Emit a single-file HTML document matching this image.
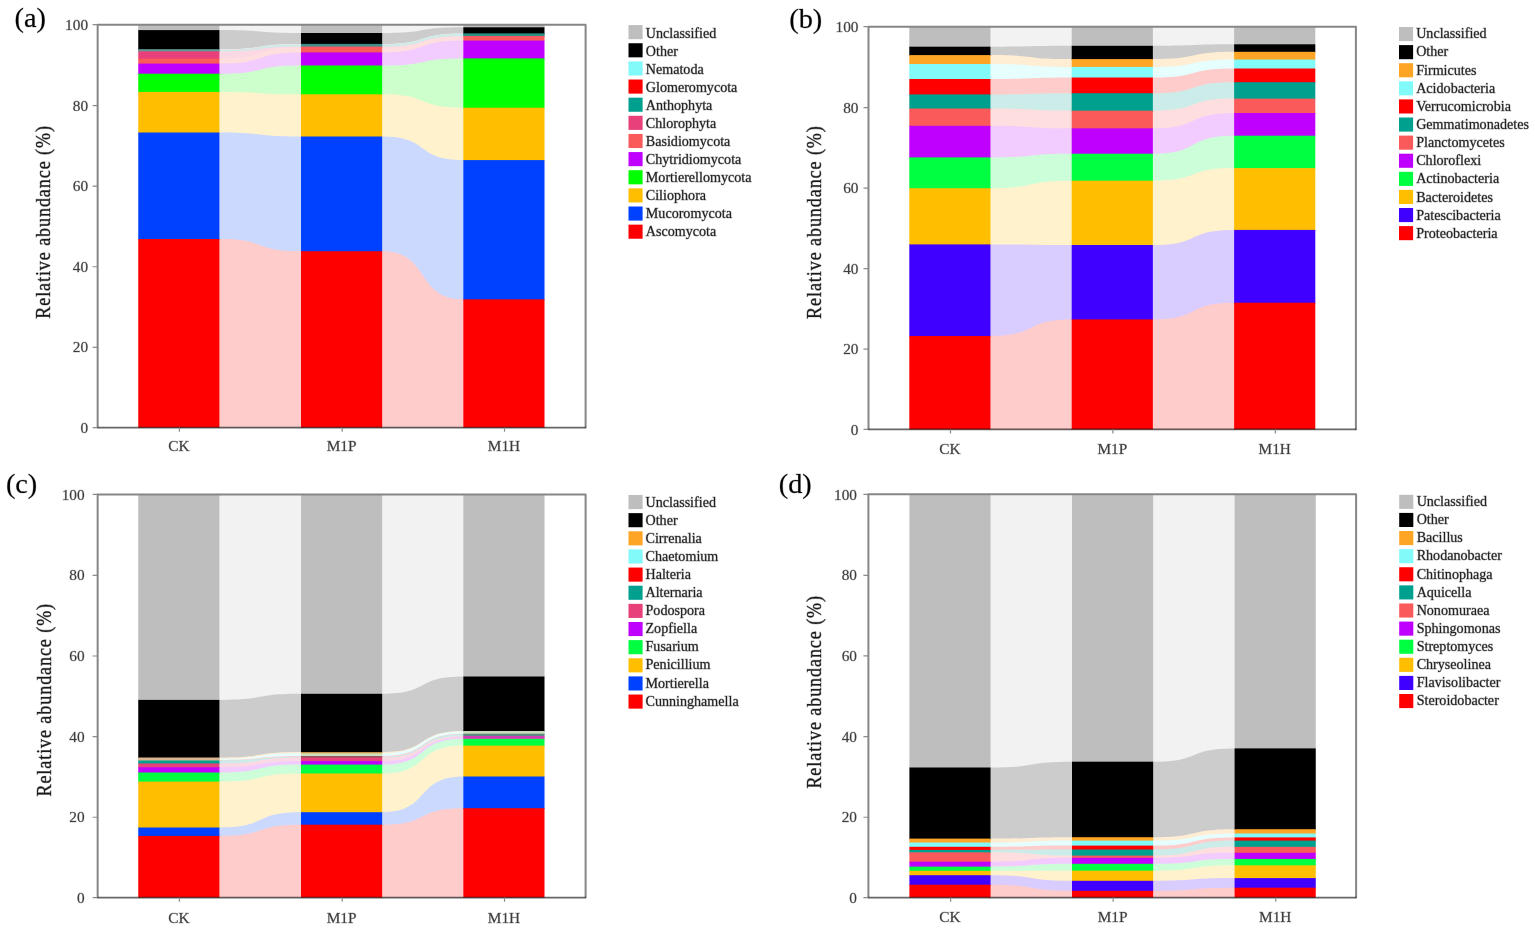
<!DOCTYPE html>
<html lang="en">
<head>
<meta charset="utf-8">
<title>Relative abundance of microbial taxa</title>
<style>
html,body{margin:0;padding:0;background:#fff;}
body{width:1535px;height:928px;overflow:hidden;}
svg{display:block;font-family:"Liberation Serif", "DejaVu Serif", serif;}
</style>
</head>
<body>
<svg width="1535" height="928" viewBox="0 0 1535 928" role="img" aria-label="Relative abundance of microbial taxa in CK, M1P and M1H">
<rect width="1535" height="928" fill="#fff"/>
<g id="panel-a">
<g class="flows">
<path d="M218.4 24.7H302V427.6H218.4Z" fill="#F2F2F2"/>
<path d="M218.4 30.1H219.4C268.36 30.1 252.04 33 301 33H302V427.6H218.4Z" fill="#CCCCCC"/>
<path d="M218.4 49.2H219.4C268.36 49.2 252.04 43.9 301 43.9H302V427.6H218.4Z" fill="#E6FEFE"/>
<path d="M218.4 49.8H219.4C268.36 49.8 252.04 44.4 301 44.4H302V427.6H218.4Z" fill="#FFCCCC"/>
<path d="M218.4 50H219.4C268.36 50 252.04 44.6 301 44.6H302V427.6H218.4Z" fill="#CCECE9"/>
<path d="M218.4 51.3H219.4C268.36 51.3 252.04 46.5 301 46.5H302V427.6H218.4Z" fill="#FAD9E4"/>
<path d="M218.4 58.6H219.4C268.36 58.6 252.04 47.2 301 47.2H302V427.6H218.4Z" fill="#FEDEDE"/>
<path d="M218.4 63.6H219.4C268.36 63.6 252.04 52.4 301 52.4H302V427.6H218.4Z" fill="#F2CCFF"/>
<path d="M218.4 73.7H219.4C268.36 73.7 252.04 65.5 301 65.5H302V427.6H218.4Z" fill="#CCFFCC"/>
<path d="M218.4 91.9H219.4C268.36 91.9 252.04 94.3 301 94.3H302V427.6H218.4Z" fill="#FFF2CC"/>
<path d="M218.4 132.5H219.4C268.36 132.5 252.04 136.5 301 136.5H302V427.6H218.4Z" fill="#CCD9FF"/>
<path d="M218.4 239H219.4C268.36 239 252.04 251.2 301 251.2H302V427.6H218.4Z" fill="#FFCCCC"/>
<path d="M381.15 24.7H464.35V427.6H381.15Z" fill="#F2F2F2"/>
<path d="M381.15 33H382.15C430.87 33 414.63 27.3 463.35 27.3H464.35V427.6H381.15Z" fill="#CCCCCC"/>
<path d="M381.15 43.9H382.15C430.87 43.9 414.63 33.4 463.35 33.4H464.35V427.6H381.15Z" fill="#E6FEFE"/>
<path d="M381.15 44.4H382.15C430.87 44.4 414.63 33.9 463.35 33.9H464.35V427.6H381.15Z" fill="#FFCCCC"/>
<path d="M381.15 44.6H382.15C430.87 44.6 414.63 34.1 463.35 34.1H464.35V427.6H381.15Z" fill="#CCECE9"/>
<path d="M381.15 46.5H382.15C430.87 46.5 414.63 36 463.35 36H464.35V427.6H381.15Z" fill="#FAD9E4"/>
<path d="M381.15 47.2H382.15C430.87 47.2 414.63 36.5 463.35 36.5H464.35V427.6H381.15Z" fill="#FEDEDE"/>
<path d="M381.15 52.4H382.15C430.87 52.4 414.63 40.6 463.35 40.6H464.35V427.6H381.15Z" fill="#F2CCFF"/>
<path d="M381.15 65.5H382.15C430.87 65.5 414.63 58.4 463.35 58.4H464.35V427.6H381.15Z" fill="#CCFFCC"/>
<path d="M381.15 94.3H382.15C430.87 94.3 414.63 107.7 463.35 107.7H464.35V427.6H381.15Z" fill="#FFF2CC"/>
<path d="M381.15 136.5H382.15C430.87 136.5 414.63 160.1 463.35 160.1H464.35V427.6H381.15Z" fill="#CCD9FF"/>
<path d="M381.15 251.2H382.15C430.87 251.2 414.63 299.3 463.35 299.3H464.35V427.6H381.15Z" fill="#FFCCCC"/>
</g>
<g class="bars">
<rect x="138.25" y="24.7" width="81.15" height="6.2" fill="#BEBEBE"/>
<rect x="138.25" y="30.1" width="81.15" height="19.9" fill="#000000"/>
<rect x="138.25" y="49.2" width="81.15" height="1.4" fill="#5F9A96"/>
<rect x="138.25" y="49.8" width="81.15" height="1" fill="#5F9A96"/>
<rect x="138.25" y="50" width="81.15" height="2.1" fill="#5F9A96"/>
<rect x="138.25" y="51.3" width="81.15" height="8.1" fill="#E8407A"/>
<rect x="138.25" y="58.6" width="81.15" height="5.8" fill="#FA5A5A"/>
<rect x="138.25" y="63.6" width="81.15" height="10.9" fill="#BF00FF"/>
<rect x="138.25" y="73.7" width="81.15" height="19" fill="#00FF00"/>
<rect x="138.25" y="91.9" width="81.15" height="41.4" fill="#FFBF00"/>
<rect x="138.25" y="132.5" width="81.15" height="107.3" fill="#0040FF"/>
<rect x="138.25" y="239" width="81.15" height="188.6" fill="#FF0000"/>
<rect x="301" y="24.7" width="81.15" height="9.1" fill="#BEBEBE"/>
<rect x="301" y="33" width="81.15" height="11.7" fill="#000000"/>
<rect x="301" y="43.9" width="81.15" height="1.3" fill="#3F908A"/>
<rect x="301" y="44.4" width="81.15" height="1" fill="#3F908A"/>
<rect x="301" y="44.6" width="81.15" height="2.7" fill="#3F908A"/>
<rect x="301" y="46.5" width="81.15" height="1.5" fill="#F05870"/>
<rect x="301" y="47.2" width="81.15" height="6" fill="#FA5A5A"/>
<rect x="301" y="52.4" width="81.15" height="13.9" fill="#BF00FF"/>
<rect x="301" y="65.5" width="81.15" height="29.6" fill="#00FF00"/>
<rect x="301" y="94.3" width="81.15" height="43" fill="#FFBF00"/>
<rect x="301" y="136.5" width="81.15" height="115.5" fill="#0040FF"/>
<rect x="301" y="251.2" width="81.15" height="176.4" fill="#FF0000"/>
<rect x="463.35" y="24.7" width="81.15" height="3.4" fill="#BEBEBE"/>
<rect x="463.35" y="27.3" width="81.15" height="6.9" fill="#000000"/>
<rect x="463.35" y="33.4" width="81.15" height="1.3" fill="#2F9088"/>
<rect x="463.35" y="33.9" width="81.15" height="1" fill="#2F9088"/>
<rect x="463.35" y="34.1" width="81.15" height="2.7" fill="#2F9088"/>
<rect x="463.35" y="36" width="81.15" height="1.3" fill="#F05870"/>
<rect x="463.35" y="36.5" width="81.15" height="4.9" fill="#FA5A5A"/>
<rect x="463.35" y="40.6" width="81.15" height="18.6" fill="#BF00FF"/>
<rect x="463.35" y="58.4" width="81.15" height="50.1" fill="#00FF00"/>
<rect x="463.35" y="107.7" width="81.15" height="53.2" fill="#FFBF00"/>
<rect x="463.35" y="160.1" width="81.15" height="140" fill="#0040FF"/>
<rect x="463.35" y="299.3" width="81.15" height="128.3" fill="#FF0000"/>
</g>
<path d="M97.65 427.6V24.7H585.6V427.6" fill="none" stroke="#868686" stroke-width="2.0" stroke-linejoin="round"/>
<path d="M96.95 427.6H586.3" fill="none" stroke="#000" stroke-opacity="0.6" stroke-width="1.9"/>
<path d="M92.65 427.6H97.65M92.65 347.32H97.65M92.65 266.74H97.65M92.65 186.16H97.65M92.65 105.58H97.65M92.65 24.7H97.65M179.42 427.6V431.8M342.18 427.6V431.8M504.53 427.6V431.8" fill="none" stroke="#8A8A8A" stroke-width="1.2"/>
<g class="ticklabels" font-size="15.3" fill="#3C3C3C" stroke="#3C3C3C" stroke-width="0.8" stroke-opacity="0.3" paint-order="stroke">
<text transform="translate(88.05 432.75) scale(1 1)" text-anchor="end">0</text>
<text transform="translate(88.05 352.47) scale(1 1)" text-anchor="end">20</text>
<text transform="translate(88.05 271.89) scale(1 1)" text-anchor="end">40</text>
<text transform="translate(88.05 191.31) scale(1 1)" text-anchor="end">60</text>
<text transform="translate(88.05 110.73) scale(1 1)" text-anchor="end">80</text>
<text transform="translate(88.05 29.85) scale(1 1)" text-anchor="end">100</text>
<text transform="translate(178.82 451.3) scale(1 1)" text-anchor="middle">CK</text>
<text transform="translate(341.57 451.3) scale(1 1)" text-anchor="middle">M1P</text>
<text transform="translate(503.93 451.3) scale(1 1)" text-anchor="middle">M1H</text>
</g>
<text class="ylab" transform="translate(50.4 221.95) rotate(-90) scale(0.9 1)" letter-spacing="1.005" text-anchor="middle" font-size="20.1" fill="#1a1a1a" stroke="#1a1a1a" stroke-width="0.9" stroke-opacity="0.4" paint-order="stroke">Relative abundance (%)</text>
<text class="plabel" x="14.6" y="27" font-size="28.3" fill="#000" stroke="#000" stroke-width="0.8" stroke-opacity="0.25" paint-order="stroke">(a)</text>
<g class="legend" font-size="14.1" fill="#202020" stroke-width="0.9" stroke-opacity="0.35" paint-order="stroke">
<rect x="628.5" y="25.1" width="14.1" height="14.1" fill="#BEBEBE"/>
<text x="645.8" y="37.65" stroke="#202020">Unclassified</text>
<rect x="628.5" y="43.24" width="14.1" height="14.1" fill="#000000"/>
<text x="645.8" y="55.65" stroke="#202020">Other</text>
<rect x="628.5" y="61.38" width="14.1" height="14.1" fill="#82FAFA"/>
<text x="645.8" y="73.65" stroke="#202020">Nematoda</text>
<rect x="628.5" y="79.52" width="14.1" height="14.1" fill="#FF0000"/>
<text x="645.8" y="91.65" stroke="#202020">Glomeromycota</text>
<rect x="628.5" y="97.66" width="14.1" height="14.1" fill="#00A08F"/>
<text x="645.8" y="109.65" stroke="#202020">Anthophyta</text>
<rect x="628.5" y="115.8" width="14.1" height="14.1" fill="#E8407A"/>
<text x="645.8" y="127.65" stroke="#202020">Chlorophyta</text>
<rect x="628.5" y="133.94" width="14.1" height="14.1" fill="#FA5A5A"/>
<text x="645.8" y="145.65" stroke="#202020">Basidiomycota</text>
<rect x="628.5" y="152.08" width="14.1" height="14.1" fill="#BF00FF"/>
<text x="645.8" y="163.65" stroke="#202020">Chytridiomycota</text>
<rect x="628.5" y="170.22" width="14.1" height="14.1" fill="#00FF00"/>
<text x="645.8" y="181.65" stroke="#202020">Mortierellomycota</text>
<rect x="628.5" y="188.36" width="14.1" height="14.1" fill="#FFBF00"/>
<text x="645.8" y="199.65" stroke="#202020">Ciliophora</text>
<rect x="628.5" y="206.5" width="14.1" height="14.1" fill="#0040FF"/>
<text x="645.8" y="217.65" stroke="#202020">Mucoromycota</text>
<rect x="628.5" y="224.64" width="14.1" height="14.1" fill="#FF0000"/>
<text x="645.8" y="235.65" stroke="#202020">Ascomycota</text>
</g>
</g>
<g id="panel-b">
<g class="flows">
<path d="M989.45 26.7H1072.7V429.4H989.45Z" fill="#F2F2F2"/>
<path d="M989.45 46.7H990.45C1039.2 46.7 1022.95 45.8 1071.7 45.8H1072.7V429.4H989.45Z" fill="#CCCCCC"/>
<path d="M989.45 55.1H990.45C1039.2 55.1 1022.95 59.1 1071.7 59.1H1072.7V429.4H989.45Z" fill="#FFEDD4"/>
<path d="M989.45 64H990.45C1039.2 64 1022.95 66.9 1071.7 66.9H1072.7V429.4H989.45Z" fill="#E6FEFE"/>
<path d="M989.45 79H990.45C1039.2 79 1022.95 77.5 1071.7 77.5H1072.7V429.4H989.45Z" fill="#FFCCCC"/>
<path d="M989.45 94.4H990.45C1039.2 94.4 1022.95 93.2 1071.7 93.2H1072.7V429.4H989.45Z" fill="#CCECE9"/>
<path d="M989.45 108.5H990.45C1039.2 108.5 1022.95 110.7 1071.7 110.7H1072.7V429.4H989.45Z" fill="#FEDEDE"/>
<path d="M989.45 125.8H990.45C1039.2 125.8 1022.95 128.3 1071.7 128.3H1072.7V429.4H989.45Z" fill="#F2CCFF"/>
<path d="M989.45 157.4H990.45C1039.2 157.4 1022.95 153.7 1071.7 153.7H1072.7V429.4H989.45Z" fill="#CCFFD9"/>
<path d="M989.45 188.2H990.45C1039.2 188.2 1022.95 180.7 1071.7 180.7H1072.7V429.4H989.45Z" fill="#FFF2CC"/>
<path d="M989.45 244.4H990.45C1039.2 244.4 1022.95 245 1071.7 245H1072.7V429.4H989.45Z" fill="#D9CCFF"/>
<path d="M989.45 336H990.45C1039.2 336 1022.95 319.4 1071.7 319.4H1072.7V429.4H989.45Z" fill="#FFCCCC"/>
<path d="M1151.85 26.7H1235.15V429.4H1151.85Z" fill="#F2F2F2"/>
<path d="M1151.85 45.8H1152.85C1201.63 45.8 1185.37 44.3 1234.15 44.3H1235.15V429.4H1151.85Z" fill="#CCCCCC"/>
<path d="M1151.85 59.1H1152.85C1201.63 59.1 1185.37 51.8 1234.15 51.8H1235.15V429.4H1151.85Z" fill="#FFEDD4"/>
<path d="M1151.85 66.9H1152.85C1201.63 66.9 1185.37 59.5 1234.15 59.5H1235.15V429.4H1151.85Z" fill="#E6FEFE"/>
<path d="M1151.85 77.5H1152.85C1201.63 77.5 1185.37 68.5 1234.15 68.5H1235.15V429.4H1151.85Z" fill="#FFCCCC"/>
<path d="M1151.85 93.2H1152.85C1201.63 93.2 1185.37 82.2 1234.15 82.2H1235.15V429.4H1151.85Z" fill="#CCECE9"/>
<path d="M1151.85 110.7H1152.85C1201.63 110.7 1185.37 98.6 1234.15 98.6H1235.15V429.4H1151.85Z" fill="#FEDEDE"/>
<path d="M1151.85 128.3H1152.85C1201.63 128.3 1185.37 113 1234.15 113H1235.15V429.4H1151.85Z" fill="#F2CCFF"/>
<path d="M1151.85 153.7H1152.85C1201.63 153.7 1185.37 135.7 1234.15 135.7H1235.15V429.4H1151.85Z" fill="#CCFFD9"/>
<path d="M1151.85 180.7H1152.85C1201.63 180.7 1185.37 168.1 1234.15 168.1H1235.15V429.4H1151.85Z" fill="#FFF2CC"/>
<path d="M1151.85 245H1152.85C1201.63 245 1185.37 229.9 1234.15 229.9H1235.15V429.4H1151.85Z" fill="#D9CCFF"/>
<path d="M1151.85 319.4H1152.85C1201.63 319.4 1185.37 302.7 1234.15 302.7H1235.15V429.4H1151.85Z" fill="#FFCCCC"/>
</g>
<g class="bars">
<rect x="909.3" y="26.7" width="81.15" height="20.8" fill="#BEBEBE"/>
<rect x="909.3" y="46.7" width="81.15" height="9.2" fill="#000000"/>
<rect x="909.3" y="55.1" width="81.15" height="9.7" fill="#FFA526"/>
<rect x="909.3" y="64" width="81.15" height="15.8" fill="#82FAFA"/>
<rect x="909.3" y="79" width="81.15" height="16.2" fill="#FF0000"/>
<rect x="909.3" y="94.4" width="81.15" height="14.9" fill="#00A08F"/>
<rect x="909.3" y="108.5" width="81.15" height="18.1" fill="#FA5A5A"/>
<rect x="909.3" y="125.8" width="81.15" height="32.4" fill="#BF00FF"/>
<rect x="909.3" y="157.4" width="81.15" height="31.6" fill="#00FF40"/>
<rect x="909.3" y="188.2" width="81.15" height="57" fill="#FFBF00"/>
<rect x="909.3" y="244.4" width="81.15" height="92.4" fill="#4000FF"/>
<rect x="909.3" y="336" width="81.15" height="93.4" fill="#FF0000"/>
<rect x="1071.7" y="26.7" width="81.15" height="19.9" fill="#BEBEBE"/>
<rect x="1071.7" y="45.8" width="81.15" height="14.1" fill="#000000"/>
<rect x="1071.7" y="59.1" width="81.15" height="8.6" fill="#FFA526"/>
<rect x="1071.7" y="66.9" width="81.15" height="11.4" fill="#82FAFA"/>
<rect x="1071.7" y="77.5" width="81.15" height="16.5" fill="#FF0000"/>
<rect x="1071.7" y="93.2" width="81.15" height="18.3" fill="#00A08F"/>
<rect x="1071.7" y="110.7" width="81.15" height="18.4" fill="#FA5A5A"/>
<rect x="1071.7" y="128.3" width="81.15" height="26.2" fill="#BF00FF"/>
<rect x="1071.7" y="153.7" width="81.15" height="27.8" fill="#00FF40"/>
<rect x="1071.7" y="180.7" width="81.15" height="65.1" fill="#FFBF00"/>
<rect x="1071.7" y="245" width="81.15" height="75.2" fill="#4000FF"/>
<rect x="1071.7" y="319.4" width="81.15" height="110" fill="#FF0000"/>
<rect x="1234.15" y="26.7" width="81.15" height="18.4" fill="#BEBEBE"/>
<rect x="1234.15" y="44.3" width="81.15" height="8.3" fill="#000000"/>
<rect x="1234.15" y="51.8" width="81.15" height="8.5" fill="#FFA526"/>
<rect x="1234.15" y="59.5" width="81.15" height="9.8" fill="#82FAFA"/>
<rect x="1234.15" y="68.5" width="81.15" height="14.5" fill="#FF0000"/>
<rect x="1234.15" y="82.2" width="81.15" height="17.2" fill="#00A08F"/>
<rect x="1234.15" y="98.6" width="81.15" height="15.2" fill="#FA5A5A"/>
<rect x="1234.15" y="113" width="81.15" height="23.5" fill="#BF00FF"/>
<rect x="1234.15" y="135.7" width="81.15" height="33.2" fill="#00FF40"/>
<rect x="1234.15" y="168.1" width="81.15" height="62.6" fill="#FFBF00"/>
<rect x="1234.15" y="229.9" width="81.15" height="73.6" fill="#4000FF"/>
<rect x="1234.15" y="302.7" width="81.15" height="126.7" fill="#FF0000"/>
</g>
<path d="M868.5 429.4V26.7H1355.9V429.4" fill="none" stroke="#868686" stroke-width="2.0" stroke-linejoin="round"/>
<path d="M867.8 429.4H1356.6" fill="none" stroke="#000" stroke-opacity="0.6" stroke-width="1.9"/>
<path d="M863.5 429.4H868.5M863.5 349.16H868.5M863.5 268.62H868.5M863.5 188.08H868.5M863.5 107.54H868.5M863.5 26.7H868.5M950.48 429.4V433.6M1112.88 429.4V433.6M1275.33 429.4V433.6" fill="none" stroke="#8A8A8A" stroke-width="1.2"/>
<g class="ticklabels" font-size="15.3" fill="#3C3C3C" stroke="#3C3C3C" stroke-width="0.8" stroke-opacity="0.3" paint-order="stroke">
<text transform="translate(858.5 434.55) scale(1 1)" text-anchor="end">0</text>
<text transform="translate(858.5 354.31) scale(1 1)" text-anchor="end">20</text>
<text transform="translate(858.5 273.77) scale(1 1)" text-anchor="end">40</text>
<text transform="translate(858.5 193.23) scale(1 1)" text-anchor="end">60</text>
<text transform="translate(858.5 112.69) scale(1 1)" text-anchor="end">80</text>
<text transform="translate(858.5 31.85) scale(1 1)" text-anchor="end">100</text>
<text transform="translate(949.88 453.8) scale(1 1)" text-anchor="middle">CK</text>
<text transform="translate(1112.28 453.8) scale(1 1)" text-anchor="middle">M1P</text>
<text transform="translate(1274.73 453.8) scale(1 1)" text-anchor="middle">M1H</text>
</g>
<text class="ylab" transform="translate(820.5 222.1) rotate(-90) scale(0.9 1)" letter-spacing="1.005" text-anchor="middle" font-size="20.1" fill="#1a1a1a" stroke="#1a1a1a" stroke-width="0.9" stroke-opacity="0.4" paint-order="stroke">Relative abundance (%)</text>
<text class="plabel" x="789.3" y="27.8" font-size="28.3" fill="#000" stroke="#000" stroke-width="0.8" stroke-opacity="0.25" paint-order="stroke">(b)</text>
<g class="legend" font-size="14.1" fill="#202020" stroke-width="0.9" stroke-opacity="0.35" paint-order="stroke">
<rect x="1399" y="27" width="14.1" height="14.1" fill="#BEBEBE"/>
<text x="1416.2" y="38.35" stroke="#202020">Unclassified</text>
<rect x="1399" y="45.1" width="14.1" height="14.1" fill="#000000"/>
<text x="1416.2" y="56.49" stroke="#202020">Other</text>
<rect x="1399" y="63.2" width="14.1" height="14.1" fill="#FFA526"/>
<text x="1416.2" y="74.63" stroke="#202020">Firmicutes</text>
<rect x="1399" y="81.3" width="14.1" height="14.1" fill="#82FAFA"/>
<text x="1416.2" y="92.77" stroke="#202020">Acidobacteria</text>
<rect x="1399" y="99.4" width="14.1" height="14.1" fill="#FF0000"/>
<text x="1416.2" y="110.91" stroke="#202020">Verrucomicrobia</text>
<rect x="1399" y="117.5" width="14.1" height="14.1" fill="#00A08F"/>
<text x="1416.2" y="129.05" stroke="#202020">Gemmatimonadetes</text>
<rect x="1399" y="135.6" width="14.1" height="14.1" fill="#FA5A5A"/>
<text x="1416.2" y="147.19" stroke="#202020">Planctomycetes</text>
<rect x="1399" y="153.7" width="14.1" height="14.1" fill="#BF00FF"/>
<text x="1416.2" y="165.33" stroke="#202020">Chloroflexi</text>
<rect x="1399" y="171.8" width="14.1" height="14.1" fill="#00FF40"/>
<text x="1416.2" y="183.47" stroke="#202020">Actinobacteria</text>
<rect x="1399" y="189.9" width="14.1" height="14.1" fill="#FFBF00"/>
<text x="1416.2" y="201.61" stroke="#202020">Bacteroidetes</text>
<rect x="1399" y="208" width="14.1" height="14.1" fill="#4000FF"/>
<text x="1416.2" y="219.75" stroke="#202020">Patescibacteria</text>
<rect x="1399" y="226.1" width="14.1" height="14.1" fill="#FF0000"/>
<text x="1416.2" y="237.89" stroke="#202020">Proteobacteria</text>
</g>
</g>
<g id="panel-c">
<g class="flows">
<path d="M218.4 494.4H302V897.6H218.4Z" fill="#F2F2F2"/>
<path d="M218.4 699.9H219.4C268.36 699.9 252.04 693.8 301 693.8H302V897.6H218.4Z" fill="#CCCCCC"/>
<path d="M218.4 757.5H219.4C268.36 757.5 252.04 752.1 301 752.1H302V897.6H218.4Z" fill="#FFEDD4"/>
<path d="M218.4 758.7H219.4C268.36 758.7 252.04 753.3 301 753.3H302V897.6H218.4Z" fill="#E6FEFE"/>
<path d="M218.4 759.9H219.4C268.36 759.9 252.04 756 301 756H302V897.6H218.4Z" fill="#FFCCCC"/>
<path d="M218.4 760.5H219.4C268.36 760.5 252.04 756.8 301 756.8H302V897.6H218.4Z" fill="#CCECE9"/>
<path d="M218.4 763.4H219.4C268.36 763.4 252.04 757.6 301 757.6H302V897.6H218.4Z" fill="#FAD9E4"/>
<path d="M218.4 767.3H219.4C268.36 767.3 252.04 761.1 301 761.1H302V897.6H218.4Z" fill="#F2CCFF"/>
<path d="M218.4 772.5H219.4C268.36 772.5 252.04 764.6 301 764.6H302V897.6H218.4Z" fill="#CCFFD9"/>
<path d="M218.4 781.6H219.4C268.36 781.6 252.04 773.5 301 773.5H302V897.6H218.4Z" fill="#FFF2CC"/>
<path d="M218.4 827.5H219.4C268.36 827.5 252.04 812.2 301 812.2H302V897.6H218.4Z" fill="#CCD9FF"/>
<path d="M218.4 835.9H219.4C268.36 835.9 252.04 824.7 301 824.7H302V897.6H218.4Z" fill="#FFCCCC"/>
<path d="M381.15 494.4H464.35V897.6H381.15Z" fill="#F2F2F2"/>
<path d="M381.15 693.8H382.15C430.87 693.8 414.63 676.5 463.35 676.5H464.35V897.6H381.15Z" fill="#CCCCCC"/>
<path d="M381.15 752.1H382.15C430.87 752.1 414.63 731 463.35 731H464.35V897.6H381.15Z" fill="#FFEDD4"/>
<path d="M381.15 753.3H382.15C430.87 753.3 414.63 731.6 463.35 731.6H464.35V897.6H381.15Z" fill="#E6FEFE"/>
<path d="M381.15 756H382.15C430.87 756 414.63 733.7 463.35 733.7H464.35V897.6H381.15Z" fill="#FFCCCC"/>
<path d="M381.15 756.8H382.15C430.87 756.8 414.63 734.2 463.35 734.2H464.35V897.6H381.15Z" fill="#CCECE9"/>
<path d="M381.15 757.6H382.15C430.87 757.6 414.63 736 463.35 736H464.35V897.6H381.15Z" fill="#FAD9E4"/>
<path d="M381.15 761.1H382.15C430.87 761.1 414.63 737.4 463.35 737.4H464.35V897.6H381.15Z" fill="#F2CCFF"/>
<path d="M381.15 764.6H382.15C430.87 764.6 414.63 738.8 463.35 738.8H464.35V897.6H381.15Z" fill="#CCFFD9"/>
<path d="M381.15 773.5H382.15C430.87 773.5 414.63 745.6 463.35 745.6H464.35V897.6H381.15Z" fill="#FFF2CC"/>
<path d="M381.15 812.2H382.15C430.87 812.2 414.63 776.5 463.35 776.5H464.35V897.6H381.15Z" fill="#CCD9FF"/>
<path d="M381.15 824.7H382.15C430.87 824.7 414.63 808.2 463.35 808.2H464.35V897.6H381.15Z" fill="#FFCCCC"/>
</g>
<g class="bars">
<rect x="138.25" y="494.4" width="81.15" height="206.3" fill="#BEBEBE"/>
<rect x="138.25" y="699.9" width="81.15" height="58.4" fill="#000000"/>
<rect x="138.25" y="757.5" width="81.15" height="2" fill="#D8B690"/>
<rect x="138.25" y="758.7" width="81.15" height="2" fill="#D8B690"/>
<rect x="138.25" y="759.9" width="81.15" height="1.4" fill="#D8B690"/>
<rect x="138.25" y="760.5" width="81.15" height="3.7" fill="#00A08F"/>
<rect x="138.25" y="763.4" width="81.15" height="4.7" fill="#E8407A"/>
<rect x="138.25" y="767.3" width="81.15" height="6" fill="#BF00FF"/>
<rect x="138.25" y="772.5" width="81.15" height="9.9" fill="#00FF40"/>
<rect x="138.25" y="781.6" width="81.15" height="46.7" fill="#FFBF00"/>
<rect x="138.25" y="827.5" width="81.15" height="9.2" fill="#0040FF"/>
<rect x="138.25" y="835.9" width="81.15" height="61.7" fill="#FF0000"/>
<rect x="301" y="494.4" width="81.15" height="200.2" fill="#BEBEBE"/>
<rect x="301" y="693.8" width="81.15" height="59.1" fill="#000000"/>
<rect x="301" y="752.1" width="81.15" height="2" fill="#D9A050"/>
<rect x="301" y="753.3" width="81.15" height="3.5" fill="#CFE0B8"/>
<rect x="301" y="756" width="81.15" height="1.6" fill="#9A5565"/>
<rect x="301" y="756.8" width="81.15" height="1.6" fill="#9A5565"/>
<rect x="301" y="757.6" width="81.15" height="4.3" fill="#E8407A"/>
<rect x="301" y="761.1" width="81.15" height="4.3" fill="#BF00FF"/>
<rect x="301" y="764.6" width="81.15" height="9.7" fill="#00FF40"/>
<rect x="301" y="773.5" width="81.15" height="39.5" fill="#FFBF00"/>
<rect x="301" y="812.2" width="81.15" height="13.3" fill="#0040FF"/>
<rect x="301" y="824.7" width="81.15" height="72.9" fill="#FF0000"/>
<rect x="463.35" y="494.4" width="81.15" height="182.9" fill="#BEBEBE"/>
<rect x="463.35" y="676.5" width="81.15" height="55.3" fill="#000000"/>
<rect x="463.35" y="731" width="81.15" height="1.4" fill="#C8DDB8"/>
<rect x="463.35" y="731.6" width="81.15" height="2.9" fill="#C8DDB8"/>
<rect x="463.35" y="733.7" width="81.15" height="1.3" fill="#5E8582"/>
<rect x="463.35" y="734.2" width="81.15" height="2.6" fill="#5E8582"/>
<rect x="463.35" y="736" width="81.15" height="2.2" fill="#D23CB4"/>
<rect x="463.35" y="737.4" width="81.15" height="2.2" fill="#D23CB4"/>
<rect x="463.35" y="738.8" width="81.15" height="7.6" fill="#00FF40"/>
<rect x="463.35" y="745.6" width="81.15" height="31.7" fill="#FFBF00"/>
<rect x="463.35" y="776.5" width="81.15" height="32.5" fill="#0040FF"/>
<rect x="463.35" y="808.2" width="81.15" height="89.4" fill="#FF0000"/>
</g>
<path d="M97.65 897.6V494.4H585.6V897.6" fill="none" stroke="#868686" stroke-width="2.0" stroke-linejoin="round"/>
<path d="M96.95 897.6H586.3" fill="none" stroke="#000" stroke-opacity="0.6" stroke-width="1.9"/>
<path d="M92.65 897.6H97.65M92.65 817.26H97.65M92.65 736.62H97.65M92.65 655.98H97.65M92.65 575.34H97.65M92.65 494.4H97.65M179.42 897.6V901.8M342.18 897.6V901.8M504.53 897.6V901.8" fill="none" stroke="#8A8A8A" stroke-width="1.2"/>
<g class="ticklabels" font-size="15.3" fill="#3C3C3C" stroke="#3C3C3C" stroke-width="0.8" stroke-opacity="0.3" paint-order="stroke">
<text transform="translate(84.65 902.75) scale(1 1)" text-anchor="end">0</text>
<text transform="translate(84.65 822.41) scale(1 1)" text-anchor="end">20</text>
<text transform="translate(84.65 741.77) scale(1 1)" text-anchor="end">40</text>
<text transform="translate(84.65 661.13) scale(1 1)" text-anchor="end">60</text>
<text transform="translate(84.65 580.49) scale(1 1)" text-anchor="end">80</text>
<text transform="translate(84.65 499.55) scale(1 1)" text-anchor="end">100</text>
<text transform="translate(178.82 922.6) scale(1 1)" text-anchor="middle">CK</text>
<text transform="translate(341.57 922.6) scale(1 1)" text-anchor="middle">M1P</text>
<text transform="translate(503.93 922.6) scale(1 1)" text-anchor="middle">M1H</text>
</g>
<text class="ylab" transform="translate(50.5 699.75) rotate(-90) scale(0.9 1)" letter-spacing="1.005" text-anchor="middle" font-size="20.1" fill="#1a1a1a" stroke="#1a1a1a" stroke-width="0.9" stroke-opacity="0.4" paint-order="stroke">Relative abundance (%)</text>
<text class="plabel" x="5.9" y="493.2" font-size="28.3" fill="#000" stroke="#000" stroke-width="0.8" stroke-opacity="0.25" paint-order="stroke">(c)</text>
<g class="legend" font-size="14.1" fill="#202020" stroke-width="0.9" stroke-opacity="0.35" paint-order="stroke">
<rect x="628.5" y="495" width="14.1" height="14.1" fill="#BEBEBE"/>
<text x="645.5" y="507.3" stroke="#202020">Unclassified</text>
<rect x="628.5" y="513.14" width="14.1" height="14.1" fill="#000000"/>
<text x="645.5" y="525.32" stroke="#202020">Other</text>
<rect x="628.5" y="531.28" width="14.1" height="14.1" fill="#FFA526"/>
<text x="645.5" y="543.34" stroke="#202020">Cirrenalia</text>
<rect x="628.5" y="549.42" width="14.1" height="14.1" fill="#82FAFA"/>
<text x="645.5" y="561.36" stroke="#202020">Chaetomium</text>
<rect x="628.5" y="567.56" width="14.1" height="14.1" fill="#FF0000"/>
<text x="645.5" y="579.38" stroke="#202020">Halteria</text>
<rect x="628.5" y="585.7" width="14.1" height="14.1" fill="#00A08F"/>
<text x="645.5" y="597.4" stroke="#202020">Alternaria</text>
<rect x="628.5" y="603.84" width="14.1" height="14.1" fill="#E8407A"/>
<text x="645.5" y="615.42" stroke="#202020">Podospora</text>
<rect x="628.5" y="621.98" width="14.1" height="14.1" fill="#BF00FF"/>
<text x="645.5" y="633.44" stroke="#202020">Zopfiella</text>
<rect x="628.5" y="640.12" width="14.1" height="14.1" fill="#00FF40"/>
<text x="645.5" y="651.46" stroke="#202020">Fusarium</text>
<rect x="628.5" y="658.26" width="14.1" height="14.1" fill="#FFBF00"/>
<text x="645.5" y="669.48" stroke="#202020">Penicillium</text>
<rect x="628.5" y="676.4" width="14.1" height="14.1" fill="#0040FF"/>
<text x="645.5" y="687.5" stroke="#202020">Mortierella</text>
<rect x="628.5" y="694.54" width="14.1" height="14.1" fill="#FF0000"/>
<text x="645.5" y="705.52" stroke="#202020">Cunninghamella</text>
</g>
</g>
<g id="panel-d">
<g class="flows">
<path d="M989.55 494.35H1073V897.6H989.55Z" fill="#F2F2F2"/>
<path d="M989.55 767.5H990.55C1039.42 767.5 1023.13 761.7 1072 761.7H1073V897.6H989.55Z" fill="#CCCCCC"/>
<path d="M989.55 838.6H990.55C1039.42 838.6 1023.13 837.2 1072 837.2H1073V897.6H989.55Z" fill="#FFEDD4"/>
<path d="M989.55 842.5H990.55C1039.42 842.5 1023.13 840.6 1072 840.6H1073V897.6H989.55Z" fill="#E6FEFE"/>
<path d="M989.55 846.8H990.55C1039.42 846.8 1023.13 845.6 1072 845.6H1073V897.6H989.55Z" fill="#FFCCCC"/>
<path d="M989.55 849.9H990.55C1039.42 849.9 1023.13 849.5 1072 849.5H1073V897.6H989.55Z" fill="#CCECE9"/>
<path d="M989.55 852.3H990.55C1039.42 852.3 1023.13 855.6 1072 855.6H1073V897.6H989.55Z" fill="#FEDEDE"/>
<path d="M989.55 861.7H990.55C1039.42 861.7 1023.13 857.8 1072 857.8H1073V897.6H989.55Z" fill="#F2CCFF"/>
<path d="M989.55 866.6H990.55C1039.42 866.6 1023.13 863.8 1072 863.8H1073V897.6H989.55Z" fill="#CCFFD9"/>
<path d="M989.55 870.8H990.55C1039.42 870.8 1023.13 870.7 1072 870.7H1073V897.6H989.55Z" fill="#FFF2CC"/>
<path d="M989.55 875.2H990.55C1039.42 875.2 1023.13 880.8 1072 880.8H1073V897.6H989.55Z" fill="#D9CCFF"/>
<path d="M989.55 884.7H990.55C1039.42 884.7 1023.13 890.8 1072 890.8H1073V897.6H989.55Z" fill="#FFCCCC"/>
<path d="M1152.15 494.35H1235.6V897.6H1152.15Z" fill="#F2F2F2"/>
<path d="M1152.15 761.7H1153.15C1202.02 761.7 1185.73 748.4 1234.6 748.4H1235.6V897.6H1152.15Z" fill="#CCCCCC"/>
<path d="M1152.15 837.2H1153.15C1202.02 837.2 1185.73 829.2 1234.6 829.2H1235.6V897.6H1152.15Z" fill="#FFEDD4"/>
<path d="M1152.15 840.6H1153.15C1202.02 840.6 1185.73 833.5 1234.6 833.5H1235.6V897.6H1152.15Z" fill="#E6FEFE"/>
<path d="M1152.15 845.6H1153.15C1202.02 845.6 1185.73 837.4 1234.6 837.4H1235.6V897.6H1152.15Z" fill="#FFCCCC"/>
<path d="M1152.15 849.5H1153.15C1202.02 849.5 1185.73 840.6 1234.6 840.6H1235.6V897.6H1152.15Z" fill="#CCECE9"/>
<path d="M1152.15 855.6H1153.15C1202.02 855.6 1185.73 846.8 1234.6 846.8H1235.6V897.6H1152.15Z" fill="#FEDEDE"/>
<path d="M1152.15 857.8H1153.15C1202.02 857.8 1185.73 852.8 1234.6 852.8H1235.6V897.6H1152.15Z" fill="#F2CCFF"/>
<path d="M1152.15 863.8H1153.15C1202.02 863.8 1185.73 858.9 1234.6 858.9H1235.6V897.6H1152.15Z" fill="#CCFFD9"/>
<path d="M1152.15 870.7H1153.15C1202.02 870.7 1185.73 865.3 1234.6 865.3H1235.6V897.6H1152.15Z" fill="#FFF2CC"/>
<path d="M1152.15 880.8H1153.15C1202.02 880.8 1185.73 878.1 1234.6 878.1H1235.6V897.6H1152.15Z" fill="#D9CCFF"/>
<path d="M1152.15 890.8H1153.15C1202.02 890.8 1185.73 887.7 1234.6 887.7H1235.6V897.6H1152.15Z" fill="#FFCCCC"/>
</g>
<g class="bars">
<rect x="909.4" y="494.3" width="81.15" height="274" fill="#BEBEBE"/>
<rect x="909.4" y="767.5" width="81.15" height="71.9" fill="#000000"/>
<rect x="909.4" y="838.6" width="81.15" height="4.7" fill="#FFA526"/>
<rect x="909.4" y="842.5" width="81.15" height="5.1" fill="#82FAFA"/>
<rect x="909.4" y="846.8" width="81.15" height="3.9" fill="#FF0000"/>
<rect x="909.4" y="849.9" width="81.15" height="3.2" fill="#00A08F"/>
<rect x="909.4" y="852.3" width="81.15" height="10.2" fill="#FA5A5A"/>
<rect x="909.4" y="861.7" width="81.15" height="5.7" fill="#BF00FF"/>
<rect x="909.4" y="866.6" width="81.15" height="5" fill="#00FF40"/>
<rect x="909.4" y="870.8" width="81.15" height="5.2" fill="#FFBF00"/>
<rect x="909.4" y="875.2" width="81.15" height="10.3" fill="#4000FF"/>
<rect x="909.4" y="884.7" width="81.15" height="12.9" fill="#FF0000"/>
<rect x="1072" y="494.3" width="81.15" height="268.2" fill="#BEBEBE"/>
<rect x="1072" y="761.7" width="81.15" height="76.3" fill="#000000"/>
<rect x="1072" y="837.2" width="81.15" height="4.2" fill="#FFA526"/>
<rect x="1072" y="840.6" width="81.15" height="5.8" fill="#82FAFA"/>
<rect x="1072" y="845.6" width="81.15" height="4.7" fill="#FF0000"/>
<rect x="1072" y="849.5" width="81.15" height="6.9" fill="#00A08F"/>
<rect x="1072" y="855.6" width="81.15" height="3" fill="#FA5A5A"/>
<rect x="1072" y="857.8" width="81.15" height="6.8" fill="#BF00FF"/>
<rect x="1072" y="863.8" width="81.15" height="7.7" fill="#00FF40"/>
<rect x="1072" y="870.7" width="81.15" height="10.9" fill="#FFBF00"/>
<rect x="1072" y="880.8" width="81.15" height="10.8" fill="#4000FF"/>
<rect x="1072" y="890.8" width="81.15" height="6.8" fill="#FF0000"/>
<rect x="1234.6" y="494.3" width="81.15" height="254.9" fill="#BEBEBE"/>
<rect x="1234.6" y="748.4" width="81.15" height="81.6" fill="#000000"/>
<rect x="1234.6" y="829.2" width="81.15" height="5.1" fill="#FFA526"/>
<rect x="1234.6" y="833.5" width="81.15" height="4.7" fill="#82FAFA"/>
<rect x="1234.6" y="837.4" width="81.15" height="4" fill="#FF0000"/>
<rect x="1234.6" y="840.6" width="81.15" height="7" fill="#00A08F"/>
<rect x="1234.6" y="846.8" width="81.15" height="6.8" fill="#FA5A5A"/>
<rect x="1234.6" y="852.8" width="81.15" height="6.9" fill="#BF00FF"/>
<rect x="1234.6" y="858.9" width="81.15" height="7.2" fill="#00FF40"/>
<rect x="1234.6" y="865.3" width="81.15" height="13.6" fill="#FFBF00"/>
<rect x="1234.6" y="878.1" width="81.15" height="10.4" fill="#4000FF"/>
<rect x="1234.6" y="887.7" width="81.15" height="9.9" fill="#FF0000"/>
</g>
<path d="M868.4 897.6V494.35H1356.1V897.6" fill="none" stroke="#868686" stroke-width="2.0" stroke-linejoin="round"/>
<path d="M867.7 897.6H1356.8" fill="none" stroke="#000" stroke-opacity="0.6" stroke-width="1.9"/>
<path d="M863.4 897.6H868.4M863.4 817.25H868.4M863.4 736.6H868.4M863.4 655.95H868.4M863.4 575.3H868.4M863.4 494.35H868.4M950.58 897.6V901.8M1113.17 897.6V901.8M1275.77 897.6V901.8" fill="none" stroke="#8A8A8A" stroke-width="1.2"/>
<g class="ticklabels" font-size="15.3" fill="#3C3C3C" stroke="#3C3C3C" stroke-width="0.8" stroke-opacity="0.3" paint-order="stroke">
<text transform="translate(857 902.75) scale(1 1)" text-anchor="end">0</text>
<text transform="translate(857 822.4) scale(1 1)" text-anchor="end">20</text>
<text transform="translate(857 741.75) scale(1 1)" text-anchor="end">40</text>
<text transform="translate(857 661.1) scale(1 1)" text-anchor="end">60</text>
<text transform="translate(857 580.45) scale(1 1)" text-anchor="end">80</text>
<text transform="translate(857 499.5) scale(1 1)" text-anchor="end">100</text>
<text transform="translate(949.98 922.3) scale(1 1)" text-anchor="middle">CK</text>
<text transform="translate(1112.58 922.3) scale(1 1)" text-anchor="middle">M1P</text>
<text transform="translate(1275.17 922.3) scale(1 1)" text-anchor="middle">M1H</text>
</g>
<text class="ylab" transform="translate(820.9 691.83) rotate(-90) scale(0.9 1)" letter-spacing="1.005" text-anchor="middle" font-size="20.1" fill="#1a1a1a" stroke="#1a1a1a" stroke-width="0.9" stroke-opacity="0.4" paint-order="stroke">Relative abundance (%)</text>
<text class="plabel" x="778.8" y="493.2" font-size="28.3" fill="#000" stroke="#000" stroke-width="0.8" stroke-opacity="0.25" paint-order="stroke">(d)</text>
<g class="legend" font-size="14.1" fill="#202020" stroke-width="0.9" stroke-opacity="0.35" paint-order="stroke">
<rect x="1399.2" y="494.8" width="14.1" height="14.1" fill="#BEBEBE"/>
<text x="1416.65" y="506.1" stroke="#202020">Unclassified</text>
<rect x="1399.2" y="512.91" width="14.1" height="14.1" fill="#000000"/>
<text x="1416.65" y="524.22" stroke="#202020">Other</text>
<rect x="1399.2" y="531.02" width="14.1" height="14.1" fill="#FFA526"/>
<text x="1416.65" y="542.34" stroke="#202020">Bacillus</text>
<rect x="1399.2" y="549.13" width="14.1" height="14.1" fill="#82FAFA"/>
<text x="1416.65" y="560.46" stroke="#202020">Rhodanobacter</text>
<rect x="1399.2" y="567.24" width="14.1" height="14.1" fill="#FF0000"/>
<text x="1416.65" y="578.58" stroke="#202020">Chitinophaga</text>
<rect x="1399.2" y="585.35" width="14.1" height="14.1" fill="#00A08F"/>
<text x="1416.65" y="596.7" stroke="#202020">Aquicella</text>
<rect x="1399.2" y="603.46" width="14.1" height="14.1" fill="#FA5A5A"/>
<text x="1416.65" y="614.82" stroke="#202020">Nonomuraea</text>
<rect x="1399.2" y="621.57" width="14.1" height="14.1" fill="#BF00FF"/>
<text x="1416.65" y="632.94" stroke="#202020">Sphingomonas</text>
<rect x="1399.2" y="639.68" width="14.1" height="14.1" fill="#00FF40"/>
<text x="1416.65" y="651.06" stroke="#202020">Streptomyces</text>
<rect x="1399.2" y="657.79" width="14.1" height="14.1" fill="#FFBF00"/>
<text x="1416.65" y="669.18" stroke="#202020">Chryseolinea</text>
<rect x="1399.2" y="675.9" width="14.1" height="14.1" fill="#4000FF"/>
<text x="1416.65" y="687.3" stroke="#202020">Flavisolibacter</text>
<rect x="1399.2" y="694.01" width="14.1" height="14.1" fill="#FF0000"/>
<text x="1416.65" y="705.42" stroke="#202020">Steroidobacter</text>
</g>
</g>
</svg>
</body>
</html>
